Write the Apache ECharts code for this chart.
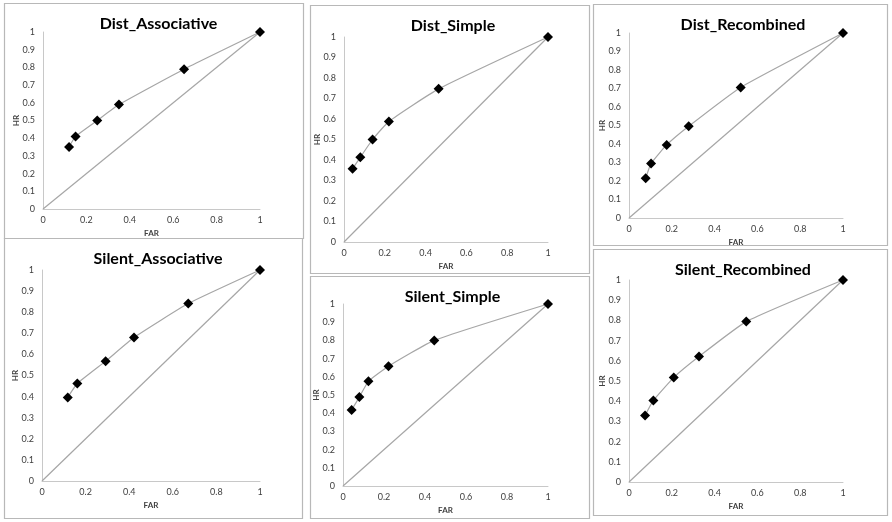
<!DOCTYPE html>
<html>
<head>
<meta charset="utf-8">
<script src="https://cdn.jsdelivr.net/npm/echarts@6/dist/echarts.min.js"></script>
<style>
html,body{margin:0;padding:0;background:#fff;}
#main{width:892px;height:522px;}
</style>
</head>
<body>
<div id="main"></div>
<script>
// panel titles, left to right then top to bottom
var titles = ["Dist_Associative", "Dist_Simple", "Dist_Recombined",
              "Silent_Associative", "Silent_Simple", "Silent_Recombined"];

// FAR / HR points
var distAssocFAR = [0.12, 0.15, 0.25, 0.35, 0.65, 1];
var distAssocHR  = [0.35, 0.41, 0.50, 0.59, 0.79, 1];
var distSimpleFAR = [0.042, 0.08, 0.14, 0.22, 0.464, 1];
var distSimpleHR  = [0.357, 0.413, 0.50, 0.588, 0.747, 1];
var distRecombFAR = [0.078, 0.103, 0.176, 0.279, 0.522, 1];
var distRecombHR  = [0.215, 0.294, 0.395, 0.496, 0.706, 1];
var silentAssocFAR = [0.118, 0.162, 0.292, 0.422, 0.671, 1];
var silentAssocHR  = [0.396, 0.462, 0.568, 0.680, 0.841, 1];
var silentSimpleFAR = [0.042, 0.080, 0.124, 0.222, 0.445, 1];
var silentSimpleHR  = [0.418, 0.489, 0.575, 0.658, 0.800, 1];
var silentRecombFAR = [0.075, 0.114, 0.209, 0.327, 0.548, 1];
var silentRecombHR  = [0.329, 0.404, 0.517, 0.621, 0.794, 1];

// chance diagonal
var chanceFAR = [0, 1];
var chanceHR = [0, 1];

var curves = [
  [distAssocFAR, distAssocHR], [distSimpleFAR, distSimpleHR], [distRecombFAR, distRecombHR],
  [silentAssocFAR, silentAssocHR], [silentSimpleFAR, silentSimpleHR], [silentRecombFAR, silentRecombHR]
];

// layout: plot area of each panel and the box drawn round it
var plots = [
  {left: 43, top: 32, width: 217, height: 177},
  {left: 344, top: 37, width: 204, height: 205},
  {left: 629, top: 33, width: 214, height: 185},
  {left: 42, top: 270, width: 218, height: 211},
  {left: 343, top: 304, width: 205, height: 182},
  {left: 629, top: 280, width: 214, height: 202}
];
var boxes = [
  [4, 3, 299, 235], [310, 5, 279, 268], [593, 4, 294, 241],
  [4, 238, 298, 280], [310, 276, 279, 242], [593, 249, 294, 266]
];

var font = "Lato, 'Open Sans', sans-serif";
function pairs(xs, ys) {
  var out = [];
  for (var i = 0; i < xs.length; i++) out.push([xs[i], ys[i]]);
  return out;
}

var grid = [], xAxis = [], yAxis = [], series = [], title = [], graphic = [];
for (var k = 0; k < 6; k++) {
  var p = plots[k];
  grid.push({left: p.left, top: p.top, width: p.width, height: p.height});
  title.push({
    text: titles[k], left: p.left + p.width / 2 + 2, top: boxes[k][1] + 8,
    textAlign: 'center',
    textStyle: {fontFamily: font, fontSize: 16, fontWeight: 'bold', color: '#000'}
  });
  xAxis.push({
    type: 'value', gridIndex: k, min: 0, max: 1, interval: 0.2,
    name: 'FAR', nameLocation: 'middle', nameGap: 20, nameMoveOverlap: false,
    nameTextStyle: {fontFamily: font, fontSize: 8, fontWeight: 'bold', color: '#404040'},
    axisLine: {lineStyle: {color: '#c8c8c8'}},
    axisTick: {show: false}, splitLine: {show: false},
    axisLabel: {fontFamily: font, fontSize: 9, color: '#404040', margin: 7}
  });
  yAxis.push({
    type: 'value', gridIndex: k, min: 0, max: 1, interval: 0.1,
    name: 'HR', nameLocation: 'middle', nameGap: 23, nameRotate: 90, nameMoveOverlap: false,
    nameTextStyle: {fontFamily: font, fontSize: 8, fontWeight: 'bold', color: '#404040'},
    axisLine: {show: true, lineStyle: {color: '#c8c8c8'}},
    axisTick: {show: false}, splitLine: {show: false},
    axisLabel: {fontFamily: font, fontSize: 9, color: '#404040', margin: 8}
  });
  series.push({
    type: 'line', xAxisIndex: k, yAxisIndex: k, data: pairs(chanceFAR, chanceHR),
    showSymbol: false, silent: true,
    lineStyle: {color: '#a6a6a6', width: 1.2}
  });
  series.push({
    type: 'line', xAxisIndex: k, yAxisIndex: k, data: pairs(curves[k][0], curves[k][1]),
    symbol: 'diamond', symbolSize: 10, smooth: 0.15,
    itemStyle: {color: '#000'},
    lineStyle: {color: '#a6a6a6', width: 1.2}
  });
  graphic.push({
    type: 'rect', shape: {x: boxes[k][0] + 0.5, y: boxes[k][1] + 0.5, width: boxes[k][2], height: boxes[k][3]},
    style: {fill: 'none', stroke: '#b8b8b8', lineWidth: 1.2}, silent: true
  });
}

var chart = echarts.init(document.getElementById('main'));
chart.setOption({
  backgroundColor: '#fff',
  animation: false,
  title: title,
  grid: grid,
  xAxis: xAxis,
  yAxis: yAxis,
  series: series,
  graphic: graphic
});
</script>
</body>
</html>
